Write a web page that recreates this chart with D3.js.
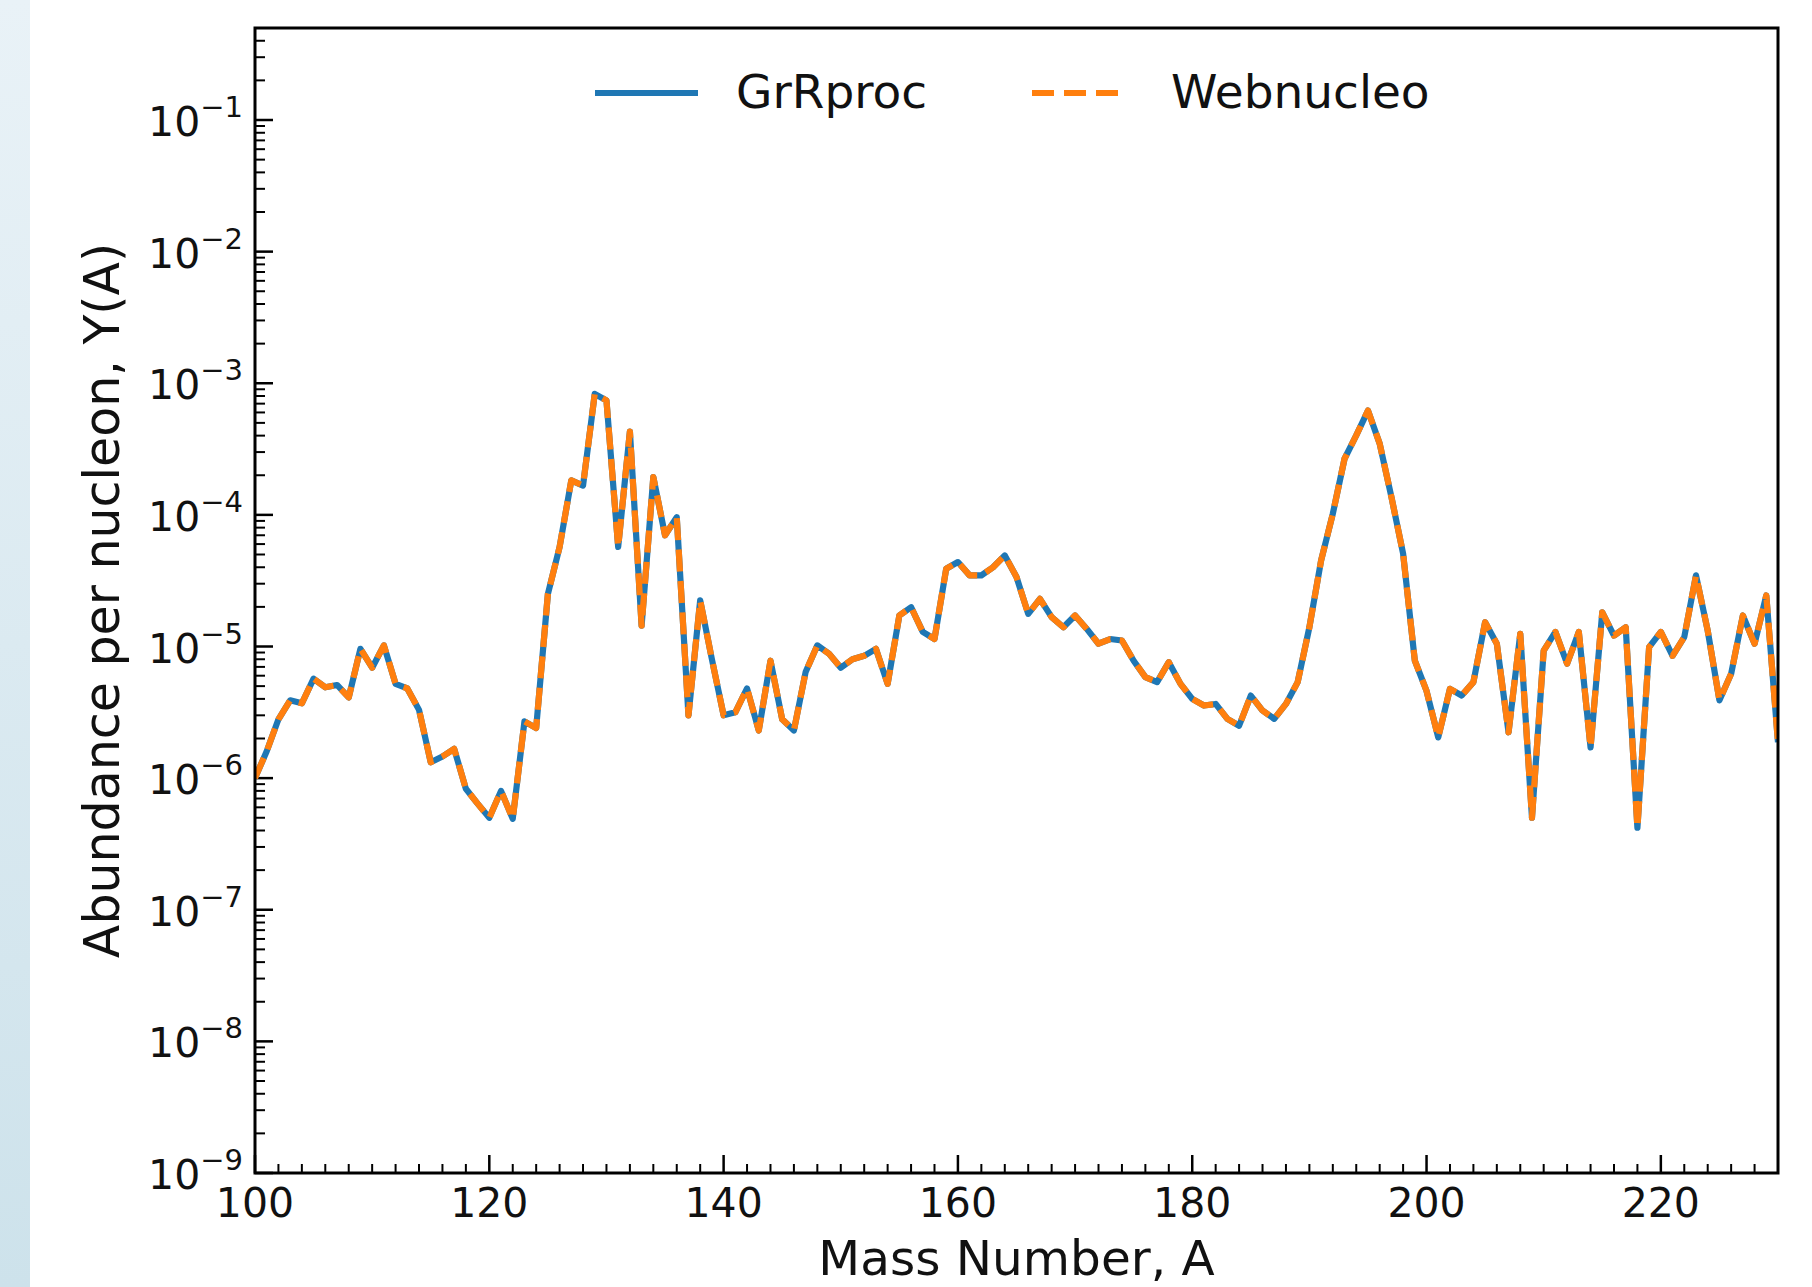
<!DOCTYPE html>
<html>
<head>
<meta charset="utf-8">
<script src="https://cdn.jsdelivr.net/npm/d3@7"></script>
<style>
  body { margin: 0; background: #fff; }
  svg { display: block; font-family: "DejaVu Sans", sans-serif; }
</style>
</head>
<body>
<script>
// mass numbers A = 100 .. 230
const massNumbers = d3.range(100, 231);

// abundance per nucleon Y(A)
const grrproc = [
  1.0e-6, 1.6e-6, 2.8e-6, 3.9e-6, 3.7e-6, 5.7e-6, 4.9e-6, 5.1e-6, 4.1e-6, 9.6e-6,
  6.9e-6, 1.02e-5, 5.2e-6, 4.8e-6, 3.3e-6, 1.32e-6, 1.46e-6, 1.67e-6, 8.3e-7, 6.4e-7,
  5.0e-7, 8.0e-7, 4.9e-7, 2.7e-6, 2.4e-6, 2.5e-5, 5.7e-5, 1.83e-4, 1.67e-4, 8.3e-4,
  7.4e-4, 5.7e-5, 4.3e-4, 1.44e-5, 1.94e-4, 7.0e-5, 9.6e-5, 3.0e-6, 2.24e-5, 8.0e-6,
  3.0e-6, 3.16e-6, 4.8e-6, 2.3e-6, 7.8e-6, 2.8e-6, 2.3e-6, 6.4e-6, 1.02e-5, 8.8e-6,
  6.9e-6, 8.0e-6, 8.5e-6, 9.6e-6, 5.2e-6, 1.72e-5, 1.99e-5, 1.29e-5, 1.14e-5, 3.9e-5,
  4.38e-5, 3.47e-5, 3.47e-5, 4.0e-5, 4.92e-5, 3.37e-5, 1.77e-5, 2.3e-5, 1.67e-5, 1.4e-5,
  1.72e-5, 1.36e-5, 1.05e-5, 1.14e-5, 1.11e-5, 7.8e-6, 5.85e-6, 5.36e-6, 7.6e-6, 5.2e-6,
  4.0e-6, 3.56e-6, 3.66e-6, 2.82e-6, 2.5e-6, 4.24e-6, 3.26e-6, 2.82e-6, 3.66e-6, 5.36e-6,
  1.4e-5, 4.5e-5, 1.02e-4, 2.67e-4, 4.02e-4, 6.2e-4, 3.48e-4, 1.37e-4, 5.07e-5, 7.8e-6,
  4.6e-6, 2.04e-6, 4.77e-6, 4.24e-6, 5.36e-6, 1.53e-5, 1.05e-5, 2.23e-6, 1.25e-5, 5.0e-7,
  9.3e-6, 1.29e-5, 7.4e-6, 1.29e-5, 1.71e-6, 1.82e-5, 1.21e-5, 1.4e-5, 4.2e-7, 9.9e-6,
  1.29e-5, 8.5e-6, 1.18e-5, 3.47e-5, 1.32e-5, 3.9e-6, 6.2e-6, 1.72e-5, 1.05e-5, 2.44e-5,
  1.87e-6
];
// the two codes agree point for point
const webnucleo = grrproc;

const xTicks = [100, 120, 140, 160, 180, 200, 220];
const yTicks = [1e-9, 1e-8, 1e-7, 1e-6, 1e-5, 1e-4, 1e-3, 1e-2, 1e-1];
const yExponents = ["9", "8", "7", "6", "5", "4", "3", "2", "1"];

const width = 1812;
const height = 1287;
const plotLeft = 255, plotRight = 1778, plotTop = 28, plotBottom = 1173;

const svg = d3.select("body").append("svg")
    .attr("width", width)
    .attr("height", height);

// light blue strip on the left edge
const defs = svg.append("defs");
const grad = defs.append("linearGradient")
    .attr("id", "strip").attr("x1", 0).attr("y1", 0).attr("x2", 0).attr("y2", 1);
grad.append("stop").attr("offset", "0%").attr("stop-color", "#e9f2f7");
grad.append("stop").attr("offset", "100%").attr("stop-color", "#cde2eb");
svg.append("rect").attr("x", 0).attr("y", 0).attr("width", 30).attr("height", height)
    .attr("fill", "url(#strip)");

defs.append("clipPath").attr("id", "plotclip")
  .append("rect").attr("x", plotLeft).attr("y", plotTop)
    .attr("width", plotRight - plotLeft).attr("height", plotBottom - plotTop);

const x = d3.scaleLinear().domain([100, 230]).range([plotLeft, plotRight]);
const y = d3.scaleLog().domain([1e-9, 0.5]).range([plotBottom, plotTop]);

// minor ticks
const xMinor = d3.range(100, 231, 2).filter(function (d) { return d % 20 !== 0; });
const yMinor = [];
for (let e = -9; e <= -1; e++) {
    for (let m = 2; m <= 9; m++) {
        const v = m * Math.pow(10, e);
        if (v <= 0.5) yMinor.push(v);
    }
}

const ticks = svg.append("g")
    .attr("stroke", "#000");

ticks.selectAll("line.xmaj").data(xTicks).enter().append("line")
    .attr("x1", function (d) { return x(d); }).attr("x2", function (d) { return x(d); })
    .attr("y1", plotBottom).attr("y2", plotBottom - 18).attr("stroke-width", 2.5);
ticks.selectAll("line.xmin").data(xMinor).enter().append("line")
    .attr("x1", function (d) { return x(d); }).attr("x2", function (d) { return x(d); })
    .attr("y1", plotBottom).attr("y2", plotBottom - 9).attr("stroke-width", 2);
ticks.selectAll("line.ymaj").data(yTicks).enter().append("line")
    .attr("y1", function (d) { return y(d); }).attr("y2", function (d) { return y(d); })
    .attr("x1", plotLeft).attr("x2", plotLeft + 18).attr("stroke-width", 2.5);
ticks.selectAll("line.ymin").data(yMinor).enter().append("line")
    .attr("y1", function (d) { return y(d); }).attr("y2", function (d) { return y(d); })
    .attr("x1", plotLeft).attr("x2", plotLeft + 10).attr("stroke-width", 2);

// tick labels
svg.append("g").selectAll("text").data(xTicks).enter().append("text")
    .attr("x", function (d) { return x(d); })
    .attr("y", plotBottom + 44)
    .attr("text-anchor", "middle")
    .attr("font-size", 41)
    .attr("fill", "#111")
    .text(function (d) { return d; });

const ylab = svg.append("g").selectAll("text").data(yTicks).enter().append("text")
    .attr("x", plotLeft - 12)
    .attr("y", function (d) { return y(d) + 16; })
    .attr("text-anchor", "end")
    .attr("fill", "#111");
ylab.append("tspan").attr("font-size", 41).text("10");
ylab.append("tspan").attr("font-size", 29).attr("dy", -19)
    .text(function (d, i) { return "\u2212" + yExponents[i]; });

// data lines
const line = d3.line()
    .x(function (d, i) { return x(massNumbers[i]); })
    .y(function (d) { return y(d); });

const lines = svg.append("g").attr("clip-path", "url(#plotclip)")
    .attr("fill", "none").attr("stroke-linejoin", "round");
lines.append("path").datum(grrproc)
    .attr("d", line)
    .attr("stroke", "#1f77b4")
    .attr("stroke-width", 6.2);
lines.append("path").datum(webnucleo)
    .attr("d", line)
    .attr("stroke", "#ff7f0e")
    .attr("stroke-width", 6.2)
    .attr("stroke-dasharray", "22,9.5");

// frame
svg.append("rect")
    .attr("x", plotLeft).attr("y", plotTop)
    .attr("width", plotRight - plotLeft).attr("height", plotBottom - plotTop)
    .attr("fill", "none").attr("stroke", "#000").attr("stroke-width", 3);

// axis labels
svg.append("text")
    .attr("x", (plotLeft + plotRight) / 2).attr("y", 1275)
    .attr("text-anchor", "middle").attr("font-size", 48.5).attr("fill", "#111")
    .text("Mass Number, A");
svg.append("text")
    .attr("transform", "translate(119," + ((plotTop + plotBottom) / 2) + ") rotate(-90)")
    .attr("text-anchor", "middle").attr("font-size", 49).attr("fill", "#111")
    .text("Abundance per nucleon, Y(A)");

// legend
const legend = svg.append("g");
legend.append("line")
    .attr("x1", 595).attr("x2", 698).attr("y1", 93).attr("y2", 93)
    .attr("stroke", "#1f77b4").attr("stroke-width", 6);
legend.append("text")
    .attr("x", 736).attr("y", 108).attr("font-size", 47).attr("fill", "#111")
    .text("GrRproc");
legend.append("line")
    .attr("x1", 1032).attr("x2", 1118).attr("y1", 93).attr("y2", 93)
    .attr("stroke", "#ff7f0e").attr("stroke-width", 6)
    .attr("stroke-dasharray", "22,10");
legend.append("text")
    .attr("x", 1171).attr("y", 108).attr("font-size", 47).attr("fill", "#111")
    .text("Webnucleo");
</script>
</body>
</html>
